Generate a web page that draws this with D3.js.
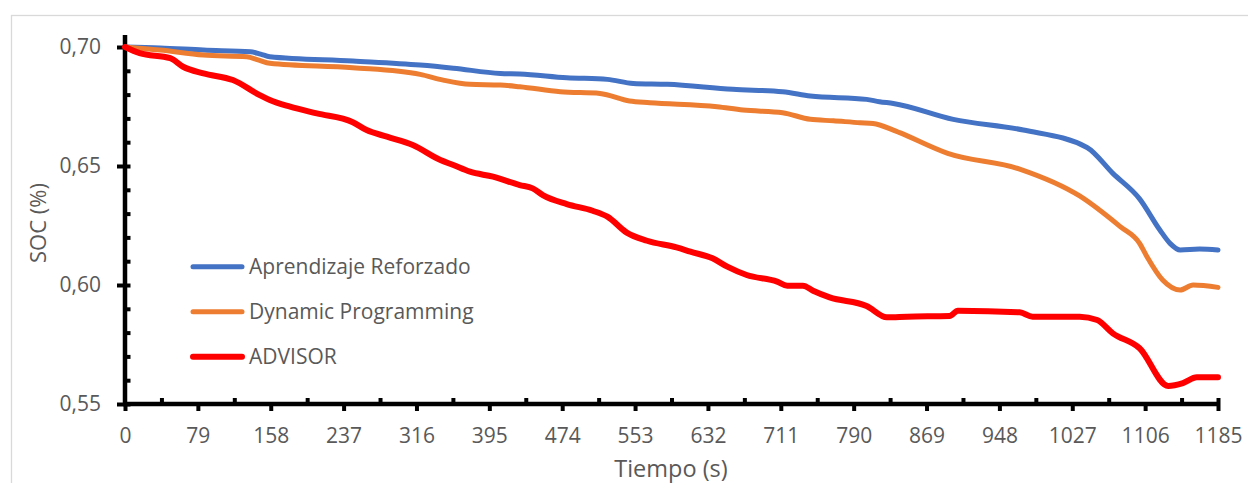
<!DOCTYPE html>
<html>
<head>
<meta charset="utf-8">
<script src="https://cdn.jsdelivr.net/npm/d3@7"></script>
<style>
  html, body { margin: 0; padding: 0; background: #fff; }
  svg { display: block; font-family: "Open Sans", "Liberation Sans", sans-serif; }
</style>
</head>
<body>
<script>
// ---- Data ----
const seriesNames = ["Aprendizaje Reforzado", "Dynamic Programming", "ADVISOR"];
const seriesColors = ["#4472C4", "#ED7D31", "#FF0000"];
const seriesWidths = [5, 5, 6];

const rlTime = [0, 38, 85, 136, 147, 157, 247, 320, 356, 407, 428, 479, 523, 551, 588, 659, 713, 743, 804, 818, 833, 898, 974, 1043, 1071, 1100, 1122, 1133, 1144, 1165, 1185];
const rlSoc  = [0.7000, 0.6996, 0.6987, 0.6980, 0.6970, 0.6959, 0.6941, 0.6924, 0.6911, 0.6889, 0.6887, 0.6871, 0.6864, 0.6847, 0.6843, 0.6822, 0.6812, 0.6794, 0.6780, 0.6770, 0.6763, 0.6696, 0.6651, 0.6578, 0.6469, 0.6362, 0.6231, 0.6175, 0.6147, 0.6151, 0.6147];

const dpTime = [0, 38, 85, 132, 145, 157, 247, 320, 345, 374, 407, 428, 472, 515, 547, 569, 642, 670, 713, 743, 768, 797, 811, 833, 840, 892, 970, 1035, 1079, 1100, 1108, 1125, 1144, 1158, 1185];
const dpSoc  = [0.7000, 0.6987, 0.6966, 0.6959, 0.6945, 0.6932, 0.6913, 0.6885, 0.6861, 0.6843, 0.6840, 0.6833, 0.6812, 0.6805, 0.6773, 0.6766, 0.6749, 0.6735, 0.6724, 0.6696, 0.6690, 0.6682, 0.6679, 0.6651, 0.6640, 0.6553, 0.6487, 0.6374, 0.6245, 0.6175, 0.6119, 0.6021, 0.5979, 0.6000, 0.5990];

const advTime = [0, 16, 49, 63, 85, 117, 146, 157, 179, 208, 247, 262, 284, 312, 342, 356, 374, 399, 428, 442, 453, 479, 507, 523, 544, 566, 598, 613, 637, 653, 674, 707, 718, 735, 746, 764, 804, 826, 848, 894, 903, 970, 984, 1035, 1054, 1071, 1100, 1131, 1147, 1162, 1185];
const advSoc  = [0.7000, 0.6974, 0.6953, 0.6917, 0.6889, 0.6861, 0.6798, 0.6777, 0.6749, 0.6721, 0.6684, 0.6651, 0.6623, 0.6588, 0.6525, 0.6504, 0.6476, 0.6455, 0.6420, 0.6406, 0.6378, 0.6340, 0.6312, 0.6287, 0.6220, 0.6186, 0.6158, 0.6140, 0.6112, 0.6077, 0.6042, 0.6014, 0.5997, 0.5997, 0.5976, 0.5948, 0.5912, 0.5864, 0.5867, 0.5870, 0.5892, 0.5885, 0.5867, 0.5867, 0.5853, 0.5797, 0.5734, 0.5576, 0.5588, 0.5612, 0.5612];

const xMajorTicks = [0, 79, 158, 237, 316, 395, 474, 553, 632, 711, 790, 869, 948, 1027, 1106, 1185];
const yMajorTicks = [0.55, 0.60, 0.65, 0.70];

const xTitle = "Tiempo (s)";
const yTitle = "SOC (%)";

// ---- Chart ----
const W = 1248, H = 483;
const svg = d3.select("body").append("svg").attr("width", W).attr("height", H);

// chart area border
svg.append("rect")
  .attr("x", 11.5).attr("y", 15.5).attr("width", W).attr("height", H)
  .attr("fill", "none").attr("stroke", "#d9d9d9").attr("stroke-width", 1.3);

const x = d3.scaleLinear().domain([0, 1185]).range([125, 1218]);
const y = d3.scaleLinear().domain([0.55, 0.70]).range([404, 47]);

const locale = d3.formatLocale({ decimal: ",", thousands: ".", grouping: [3], currency: ["", "€"] });
const yFmt = locale.format(".2f");

const textColor = "#595959";

// minor x ticks (inside, upward)
const xMinor = xMajorTicks.slice(0, -1).map(v => v + 39.5).concat([1185]);
const gxMinor = svg.append("g").attr("transform", `translate(0,${y(0.55)})`)
  .call(d3.axisBottom(x).tickValues(xMinor).tickSize(-6).tickSizeOuter(0).tickFormat(""));

// major x ticks with labels (outside, downward)
const gx = svg.append("g").attr("transform", `translate(0,${y(0.55)})`)
  .call(d3.axisBottom(x).tickValues(xMajorTicks).tickSize(7).tickSizeOuter(0).tickPadding(17.5).tickFormat(d3.format("d")));

// minor y ticks (inside, rightward)
const yMinor = d3.range(16).map(i => +(0.55 + i * 0.01).toFixed(2));
const gyMinor = svg.append("g").attr("transform", `translate(${x(0)},0)`)
  .call(d3.axisLeft(y).tickValues(yMinor).tickSize(-5.5).tickSizeOuter(0).tickFormat(""));

// major y ticks with labels
const gy = svg.append("g").attr("transform", `translate(${x(0)},0)`)
  .call(d3.axisLeft(y).tickValues(yMajorTicks).tickSize(8).tickSizeOuter(0).tickPadding(16).tickFormat(yFmt));

[gx, gxMinor, gy, gyMinor].forEach(g => {
  g.select(".domain").remove();
  g.selectAll(".tick line").attr("stroke", "#000").attr("stroke-width", 4);
  g.selectAll(".tick text").attr("fill", textColor).style("font-size", "21px").style("font-family", "'Open Sans', sans-serif");
});

// axis lines
svg.append("line")
  .attr("x1", x(0)).attr("x2", x(0)).attr("y1", y(0.705)).attr("y2", y(0.55) + 2)
  .attr("stroke", "#000").attr("stroke-width", 4.5);
svg.append("line")
  .attr("x1", x(0) - 2).attr("x2", x(1185) + 2).attr("y1", y(0.55)).attr("y2", y(0.55))
  .attr("stroke", "#000").attr("stroke-width", 4.5);

// series
const series = [
  { name: seriesNames[0], t: rlTime, v: rlSoc },
  { name: seriesNames[1], t: dpTime, v: dpSoc },
  { name: seriesNames[2], t: advTime, v: advSoc }
];

const line = d3.line().x(d => x(d[0])).y(d => y(d[1])).curve(d3.curveMonotoneX);

series.forEach((s, i) => {
  const pts = s.t.map((t, k) => [t, s.v[k]]);
  svg.append("path")
    .datum(pts)
    .attr("d", line)
    .attr("fill", "none")
    .attr("stroke", seriesColors[i])
    .attr("stroke-width", seriesWidths[i])
    .attr("stroke-linejoin", "round")
    .attr("stroke-linecap", "round");
});

// legend
const legendY = [266.7, 311.7, 356.7];
const lg = svg.append("g");
seriesNames.forEach((name, i) => {
  lg.append("line")
    .attr("x1", 193).attr("x2", 242).attr("y1", legendY[i]).attr("y2", legendY[i])
    .attr("stroke", seriesColors[i]).attr("stroke-width", seriesWidths[i])
    .attr("stroke-linecap", "round");
  lg.append("text")
    .attr("x", 249).attr("y", legendY[i] + 7.5)
    .attr("fill", textColor)
    .style("font-size", "21px")
    .text(name);
});

// axis titles
svg.append("text")
  .attr("x", 671).attr("y", 477)
  .attr("text-anchor", "middle")
  .attr("fill", textColor)
  .style("font-size", "23.5px")
  .text(xTitle);

svg.append("text")
  .attr("transform", "translate(45.5,223) rotate(-90)")
  .attr("text-anchor", "middle")
  .attr("fill", textColor)
  .style("font-size", "22px")
  .text(yTitle);
</script>
</body>
</html>
